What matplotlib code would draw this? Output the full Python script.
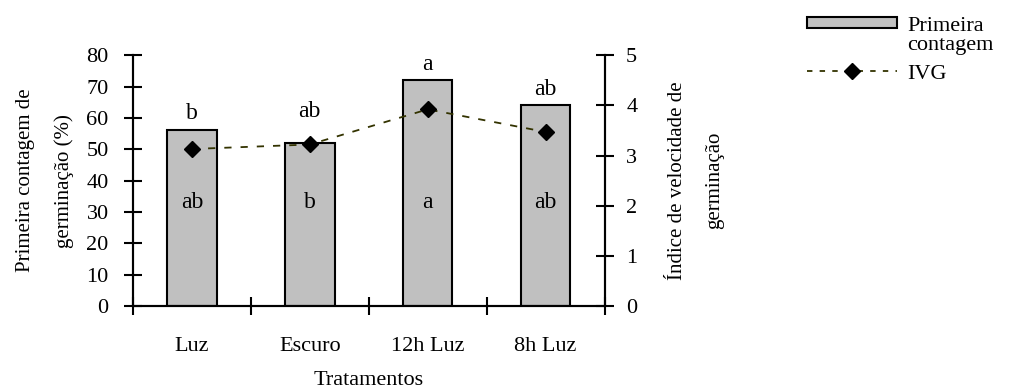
import numpy as np
import matplotlib.pyplot as plt
from matplotlib.lines import Line2D
from matplotlib.patches import Patch

plt.rcParams["font.family"] = ["Liberation Serif", "DejaVu Serif"]

# ---------------------------
# Dados
# ---------------------------
tratamentos = ["Luz", "Escuro", "12h Luz", "8h Luz"]
primeira_contagem = [56, 52, 72, 64]          # %
ivg = [3.13, 3.22, 3.92, 3.47]                # índice de velocidade de germinação
letras_contagem = ["b", "ab", "a", "ab"]
letras_ivg = ["ab", "b", "a", "ab"]

x = np.arange(len(tratamentos))

fig = plt.figure(figsize=(10.3, 3.91), dpi=100)
ax = fig.add_axes([0.129, 0.217, 0.458, 0.642])
ax2 = ax.twinx()

# barras: primeira contagem
ax.bar(x, primeira_contagem, width=0.42, color="#c0c0c0",
       edgecolor="black", linewidth=1.5, zorder=2)

# linha: IVG
ax2.plot(x, ivg, linestyle=(0, (4, 5)), color="#333300", linewidth=1.3,
         marker="D", markersize=8, markerfacecolor="black",
         markeredgecolor="black", zorder=3)

# letras de significância
offs = [5.5, 10, 5, 5]
for xi, v, o, t in zip(x, primeira_contagem, offs, letras_contagem):
    ax.text(xi, v + o, t, ha="center", va="center", fontsize=17)
for xi, t in zip(x, letras_ivg):
    ax.text(xi, 33, t, ha="center", va="center", fontsize=17)

# eixo esquerdo
ax.set_xlim(-0.5, len(x) - 0.5)
ax.set_ylim(0, 80)
ax.set_yticks(np.arange(0, 81, 10))
ax.tick_params(axis="y", direction="inout", length=13, width=1.5,
               labelsize=16, pad=11)
ax.set_ylabel("Primeira contagem de\ngerminação (%)", fontsize=15,
              linespacing=2.3, labelpad=9)

# eixo x: rótulos no centro, traços entre categorias
ax.set_xticks(x)
ax.set_xticklabels(tratamentos, fontsize=16)
ax.tick_params(axis="x", which="major", length=0, pad=22)
ax.set_xticks(np.arange(-0.5, len(x), 1.0), minor=True)
ax.tick_params(axis="x", which="minor", direction="inout", length=13, width=1.5)
ax.set_xlabel("Tratamentos", fontsize=16, labelpad=11)

# eixo direito
ax2.set_ylim(0, 5)
ax2.set_yticks(np.arange(0, 6, 1))
ax2.tick_params(axis="y", direction="inout", length=13, width=1.5,
                labelsize=16, pad=9)
ax2.set_ylabel("Índice de velocidade de\ngerminação", fontsize=15,
               rotation=90, linespacing=2.3, labelpad=22)

for a in (ax, ax2):
    a.spines["top"].set_visible(False)
    for s in ("left", "right", "bottom"):
        a.spines[s].set_linewidth(1.5)

# legenda (duas partes: barras e linha)
h_barra = Patch(facecolor="#c0c0c0", edgecolor="black", linewidth=1.5)
h_vazio = Line2D([], [], linestyle="none")
h_linha = Line2D([], [], linestyle=(0, (3, 4)), color="#333300", linewidth=1.3,
                 marker="D", markersize=8, markerfacecolor="black",
                 markeredgecolor="black")
leg_kw = dict(frameon=False, fontsize=16, handlelength=4.05,
              handletextpad=0.45, borderpad=0, borderaxespad=0)
fig.legend([h_barra, h_vazio], ["Primeira", "contagem"], loc="upper left",
           bbox_to_anchor=(0.7835, 0.957), labelspacing=0.0,
           handleheight=0.4, **leg_kw)
fig.legend([h_linha], ["IVG"], loc="center left",
           bbox_to_anchor=(0.7835, 0.812), **leg_kw)

fig.savefig("out.png", dpi=100)
